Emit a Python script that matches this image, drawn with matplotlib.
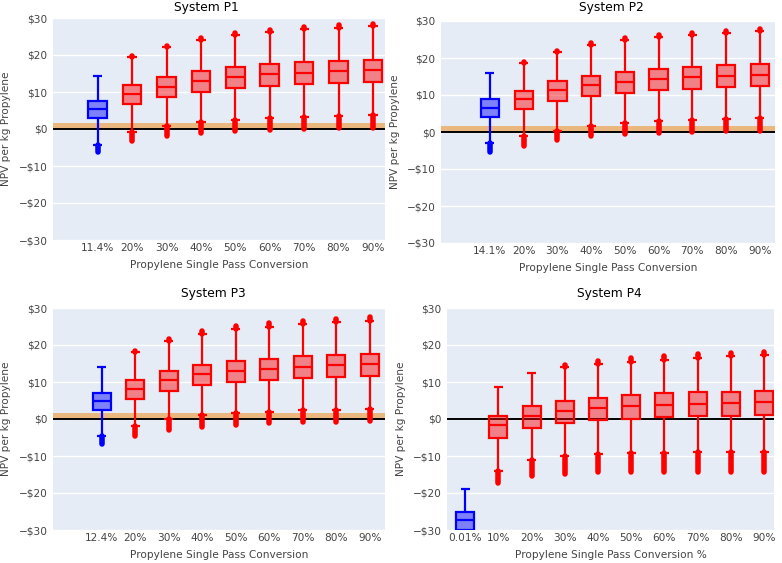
import matplotlib
matplotlib.use('Agg')
import matplotlib.pyplot as plt

plt.rcParams['font.family'] = ['DejaVu Sans']

# box statistics, per system
p1_labels = ['11.4%', '20%', '30%', '40%', '50%', '60%', '70%', '80%', '90%']
p1_whishi = [14.3, 19.4, 22.1, 24.1, 25.4, 26.2, 27.0, 27.4, 27.8]
p1_q3 = [7.5, 11.8, 14.1, 15.7, 16.7, 17.6, 18.0, 18.4, 18.7]
p1_med = [5.4, 9.5, 11.4, 13.1, 14.1, 14.8, 15.2, 15.6, 15.9]
p1_q1 = [3.0, 6.7, 8.6, 10.1, 11.0, 11.6, 12.2, 12.5, 12.8]
p1_whislo = [-4.2, -0.8, 0.7, 1.8, 2.5, 3.1, 3.3, 3.6, 3.8]
p1_out_hi = [14.3, 19.8, 22.5, 24.6, 25.9, 26.7, 27.5, 28.0, 28.4]
p1_out_lo = [-6.3, -3.2, -2.0, -1.2, -0.5, -0.2, 0.1, 0.3, 0.4]

p2_labels = ['14.1%', '20%', '30%', '40%', '50%', '60%', '70%', '80%', '90%']
p2_whishi = [15.9, 18.6, 21.5, 23.5, 24.8, 25.6, 26.3, 26.7, 27.2]
p2_q3 = [8.9, 11.2, 13.7, 15.2, 16.3, 17.0, 17.5, 18.0, 18.4]
p2_med = [6.5, 8.9, 11.3, 12.6, 13.6, 14.3, 14.8, 15.2, 15.5]
p2_q1 = [4.0, 6.1, 8.4, 9.7, 10.6, 11.3, 11.7, 12.1, 12.4]
p2_whislo = [-3.0, -1.2, 0.4, 1.7, 2.4, 2.9, 3.2, 3.5, 3.8]
p2_out_hi = [15.9, 19.0, 22.0, 24.0, 25.3, 26.2, 26.8, 27.3, 27.8]
p2_out_lo = [-5.3, -3.7, -2.2, -1.2, -0.6, -0.2, 0.1, 0.2, 0.4]

p3_labels = ['12.4%', '20%', '30%', '40%', '50%', '60%', '70%', '80%', '90%']
p3_whishi = [14.0, 18.0, 21.0, 22.9, 24.2, 25.0, 25.7, 26.1, 26.5]
p3_q3 = [7.1, 10.5, 13.1, 14.7, 15.6, 16.3, 16.9, 17.2, 17.6]
p3_med = [4.8, 8.2, 10.5, 12.1, 13.0, 13.6, 14.1, 14.5, 14.8]
p3_q1 = [2.3, 5.5, 7.7, 9.1, 9.9, 10.5, 11.0, 11.3, 11.6]
p3_whislo = [-4.7, -2.0, -0.1, 1.0, 1.5, 2.0, 2.4, 2.5, 2.7]
p3_out_hi = [14.0, 18.4, 21.7, 23.7, 25.1, 25.9, 26.6, 27.1, 27.6]
p3_out_lo = [-6.8, -4.5, -2.9, -2.1, -1.5, -1.2, -0.9, -0.7, -0.5]

p4_labels = ['0.01%', '10%', '20%', '30%', '40%', '50%', '60%', '70%', '80%', '90%']
p4_whishi = [-18.9, 8.6, 12.3, 14.0, 15.0, 15.4, 16.0, 16.5, 16.9, 17.3]
p4_q3 = [-25.0, 0.9, 3.4, 4.9, 5.8, 6.4, 6.9, 7.2, 7.3, 7.6]
p4_med = [-27.3, -1.6, 0.7, 2.2, 2.9, 3.4, 3.9, 4.1, 4.4, 4.5]
p4_q1 = [-29.9, -5.1, -2.4, -1.0, -0.4, 0.1, 0.5, 0.7, 0.8, 1.0]
p4_whislo = [-31.0, -14.0, -11.1, -10.0, -9.5, -9.2, -9.1, -9.0, -8.9, -8.8]
p4_out_hi = [-18.9, 8.6, 12.3, 14.5, 15.6, 16.5, 17.1, 17.5, 17.8, 18.2]
p4_out_lo = [-31.0, -17.3, -15.3, -14.8, -14.4, -14.3, -14.2, -14.2, -14.2, -14.2]

BG = '#e5ecf6'
BAND = '#eab77f'
TXT = '#444444'


def draw_panel(rect, title, title_xy, labels, whishi, q3, med, q1, whislo,
               out_hi, out_lo, xlim, xlabel, band):
    ax = fig.add_axes(rect)
    ax.set_facecolor(BG)
    for s in ax.spines.values():
        s.set_visible(False)
    ax.set_ylim(-30, 30)
    ax.set_xlim(*xlim)
    ax.set_yticks([-30, -20, -10, 0, 10, 20, 30])
    ax.set_yticklabels(['\u2212$30', '\u2212$20', '\u2212$10', '$0', '$10', '$20', '$30'])
    ax.yaxis.grid(True, color='white', lw=1)
    ax.set_axisbelow(True)
    ax.tick_params(length=0, labelsize=7.6, colors=TXT, pad=4)
    ax.tick_params(axis='x', pad=2.5)
    if band:
        ax.axhspan(0.3, 1.5, color=BAND, lw=0, zorder=1)
    ax.axhline(0, color='black', lw=1.4, zorder=1.5)

    pos = list(range(len(labels)))
    for i in pos:
        c = 'blue' if i == 0 else 'red'
        w = 0.27
        # outlier clusters, drawn as thick strokes
        ax.vlines(i, whislo[i], out_lo[i], color=c, lw=4, capstyle='round', zorder=3)
        if out_hi[i] > whishi[i]:
            ax.vlines(i, whishi[i], out_hi[i], color=c, lw=4, capstyle='round', zorder=3)
        # whiskers and caps
        ax.vlines(i, whislo[i], q1[i], color=c, lw=1.6, zorder=3)
        ax.vlines(i, q3[i], whishi[i], color=c, lw=1.6, zorder=3)
        ax.hlines([whislo[i], whishi[i]], i - w / 2, i + w / 2, color=c, lw=1.6, zorder=3)
        # box
        ax.bar(i, q3[i] - q1[i], bottom=q1[i], width=0.54, color=c, alpha=0.45,
               lw=0, zorder=3)
        ax.bar(i, q3[i] - q1[i], bottom=q1[i], width=0.54, fill=False,
               edgecolor=c, lw=1.6, zorder=4)
        ax.hlines(med[i], i - 0.27, i + 0.27, color=c, lw=1.6, zorder=4)

    ax.set_xticks(pos)
    ax.set_xticklabels(labels)
    ax.set_xlabel(xlabel, fontsize=7.6, color=TXT, labelpad=5)
    ax.set_ylabel('NPV per kg Propylene', fontsize=7.6, color=TXT, labelpad=5)
    fig.text(title_xy[0] / 782, 1 - title_xy[1] / 563, title, ha='center', va='center',
             fontsize=8.8, color='black')
    return ax


fig = plt.figure(figsize=(7.82, 5.63), dpi=100)
fig.patch.set_facecolor('white')

draw_panel([53 / 782, 1 - 240 / 563, 332 / 782, 222 / 563], 'System P1', (206, 8),
           p1_labels, p1_whishi, p1_q3, p1_med, p1_q1, p1_whislo, p1_out_hi, p1_out_lo,
           (-1.3, 8.35), 'Propylene Single Pass Conversion', True)
draw_panel([441 / 782, 1 - 243 / 563, 334 / 782, 222 / 563], 'System P2', (611, 8),
           p2_labels, p2_whishi, p2_q3, p2_med, p2_q1, p2_whislo, p2_out_hi, p2_out_lo,
           (-1.45, 8.45), 'Propylene Single Pass Conversion', True)
draw_panel([53 / 782, 1 - 530 / 563, 332 / 782, 222 / 563], 'System P3', (213, 294),
           p3_labels, p3_whishi, p3_q3, p3_med, p3_q1, p3_whislo, p3_out_hi, p3_out_lo,
           (-1.45, 8.45), 'Propylene Single Pass Conversion', True)
draw_panel([447 / 782, 1 - 530 / 563, 327 / 782, 222 / 563], 'System P4', (609, 294),
           p4_labels, p4_whishi, p4_q3, p4_med, p4_q1, p4_whislo, p4_out_hi, p4_out_lo,
           (-0.55, 9.3), 'Propylene Single Pass Conversion %', False)

fig.savefig('out.png', dpi=100)
